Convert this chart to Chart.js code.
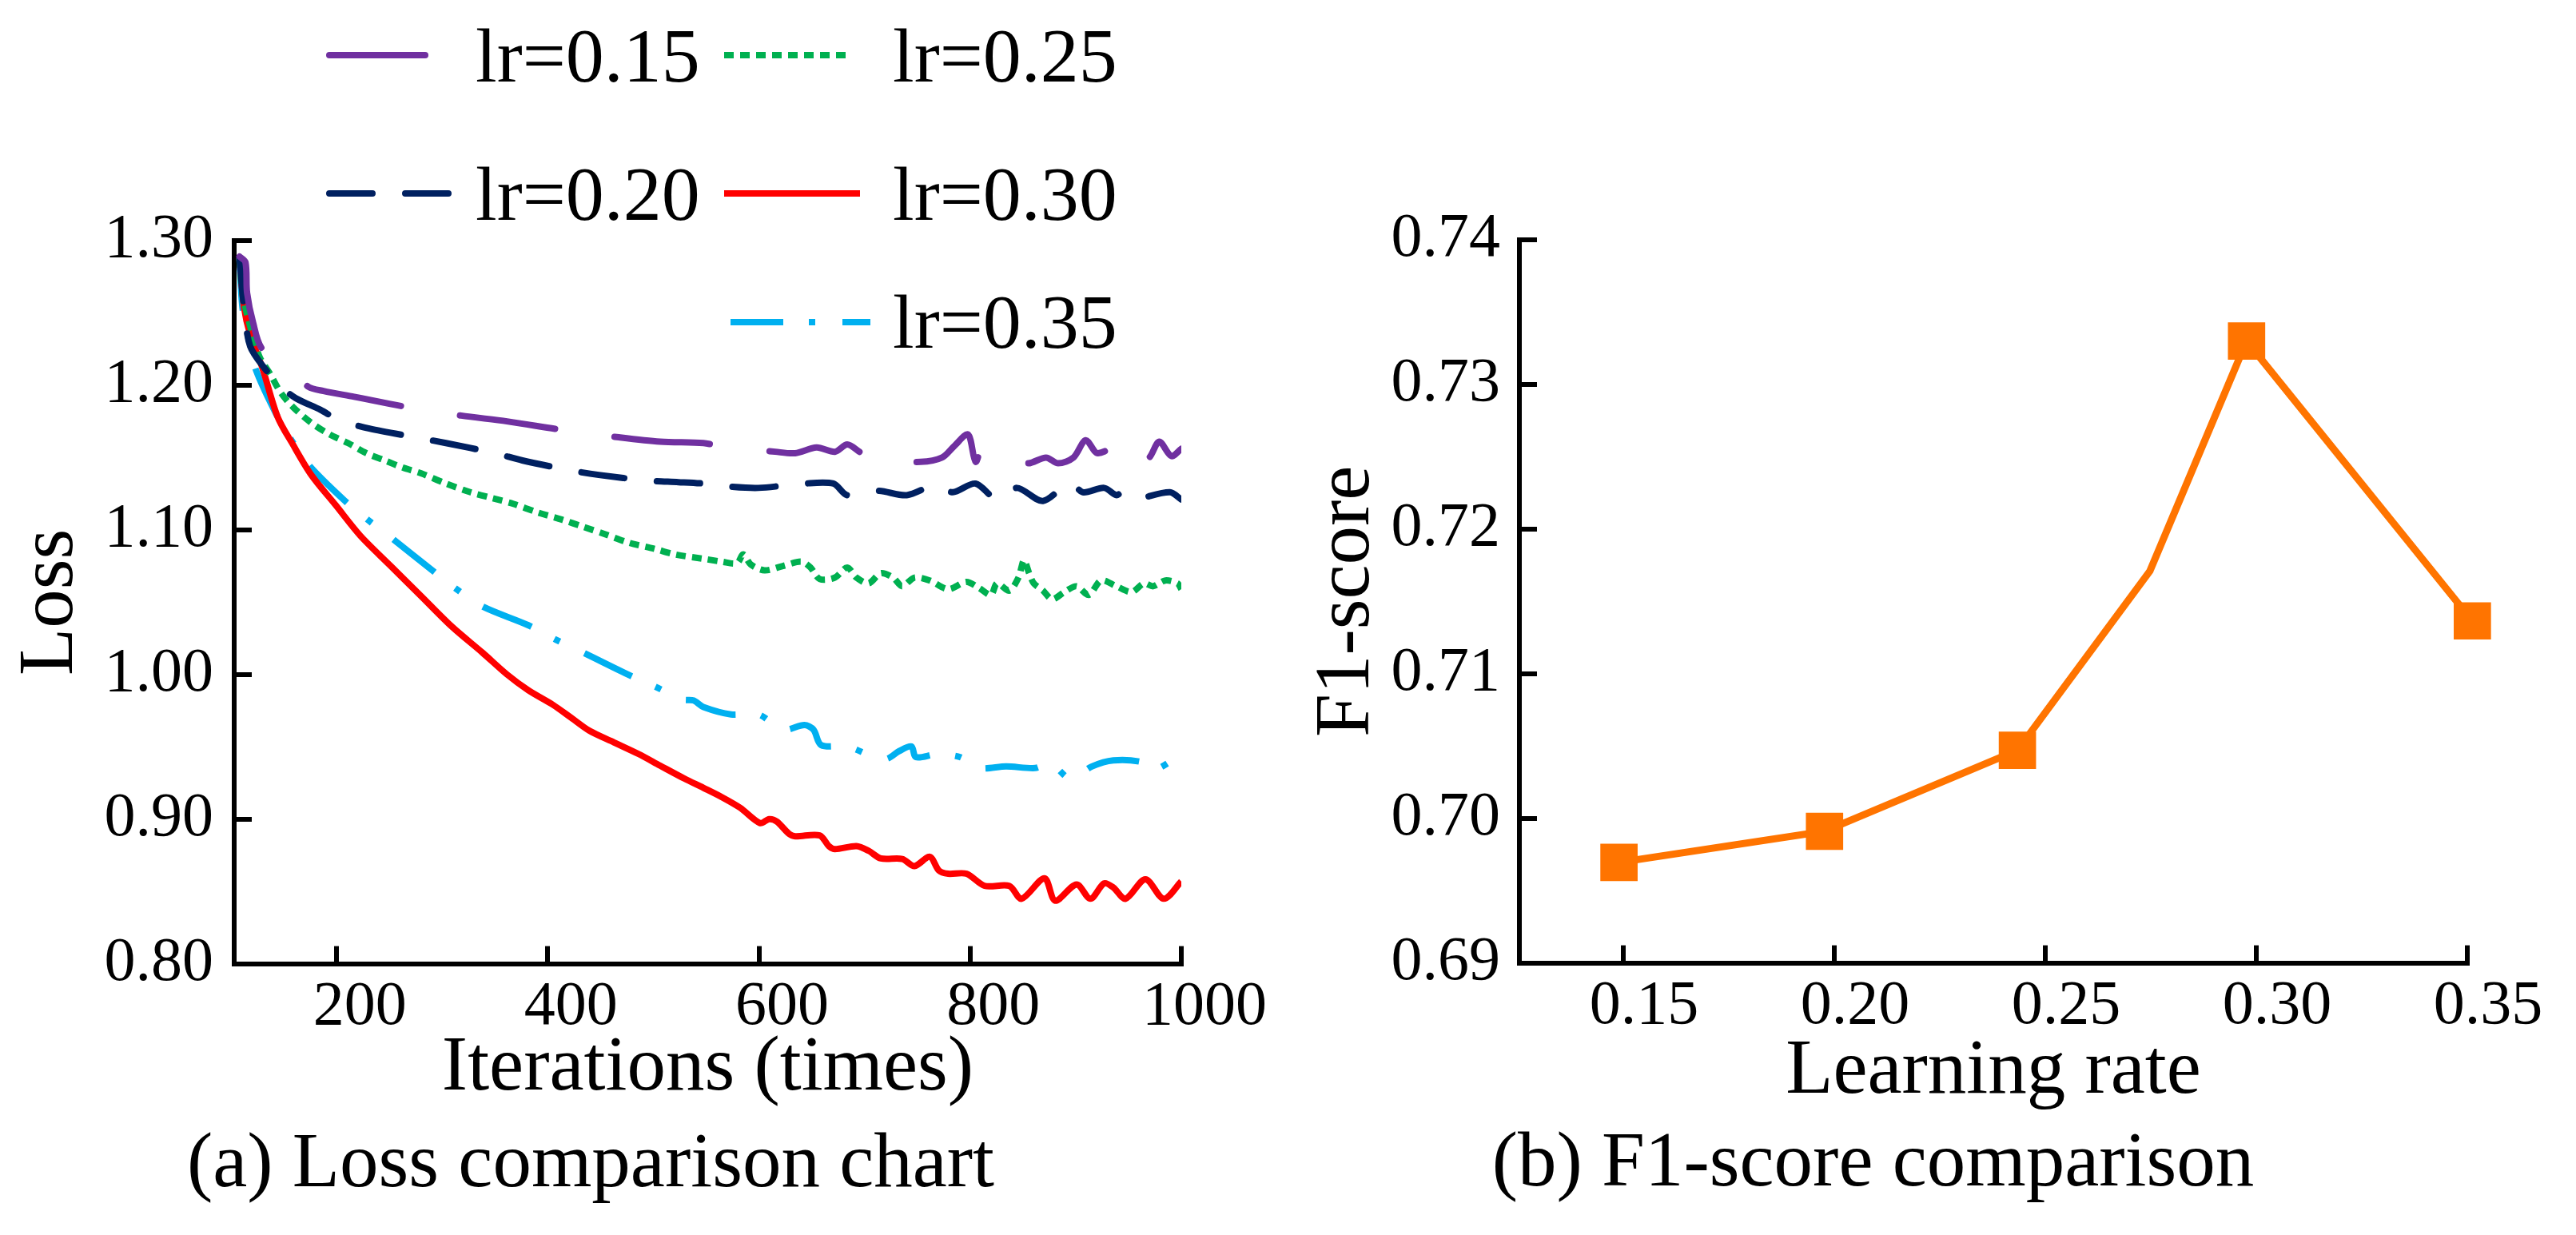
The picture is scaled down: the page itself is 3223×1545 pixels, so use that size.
<!DOCTYPE html>
<html><head><meta charset="utf-8">
<script src="https://cdn.jsdelivr.net/npm/chart.js@4.4.1/dist/chart.umd.min.js"></script>
<style>
html,body{margin:0;padding:0;background:#fff;width:3223px;height:1545px;overflow:hidden}
#c1{position:absolute;left:0;top:0}
#c2{position:absolute;left:1600px;top:0}
</style></head><body>
<canvas id="c1" width="1600" height="1545"></canvas>
<canvas id="c2" width="1623" height="1545"></canvas>
<script>
// ---------- data ----------
const seriesLabels = ['lr=0.15', 'lr=0.20', 'lr=0.25', 'lr=0.30', 'lr=0.35'];

const lr015X = [108, 113.7, 115.2, 121.0, 129.7, 173.1, 187.6, 216.6, 265.8, 318.0, 361.4, 415.0, 467.2, 506.3, 547.4, 563.3, 615.5, 634.3, 654.6, 672.0, 683.6, 695.1, 706.7, 753.1, 773.4, 785.0, 798.0, 805.2, 812.5, 842.9, 854.5, 871.9, 883.4, 897.9, 909.5, 921.1, 955.9, 968.9, 979.0, 990.6, 1000];
const lr015Y = [1.289, 1.285, 1.264, 1.243, 1.225, 1.199, 1.196, 1.192, 1.185, 1.179, 1.175, 1.169, 1.164, 1.161, 1.160, 1.158, 1.154, 1.153, 1.157, 1.154, 1.159, 1.154, 1.148, 1.147, 1.150, 1.158, 1.166, 1.147, 1.157, 1.151, 1.146, 1.150, 1.146, 1.150, 1.162, 1.153, 1.164, 1.150, 1.161, 1.151, 1.156];

const lr020X = [108, 112.3, 118.1, 132.6, 147.1, 161.5, 184.7, 202.1, 231.1, 274.5, 303.5, 349.8, 375.9, 422.3, 448.3, 494.7, 523.7, 547.4, 570.6, 599.5, 643.0, 670.5, 683.6, 712.5, 740.0, 767.6, 783.5, 805.2, 825.5, 844.3, 869.0, 895.0, 906.6, 926.9, 938.5, 944.3, 958.8, 963.1, 989.2, 1000];
const lr020Y = [1.288, 1.254, 1.227, 1.211, 1.199, 1.191, 1.183, 1.176, 1.170, 1.164, 1.160, 1.153, 1.148, 1.141, 1.138, 1.134, 1.133, 1.132, 1.130, 1.129, 1.132, 1.132, 1.124, 1.127, 1.124, 1.131, 1.126, 1.132, 1.121, 1.129, 1.120, 1.133, 1.126, 1.129, 1.124, 1.126, 1.121, 1.122, 1.126, 1.121];

const lr025X = [108, 110.8, 116.6, 126.8, 136.9, 147.0, 158.6, 176.0, 193.4, 210.8, 228.2, 245.6, 262.9, 280.3, 303.5, 326.7, 346.9, 367.2, 390.4, 413.6, 433.9, 454.1, 477.3, 500.5, 520.7, 547.4, 564.8, 579.3, 585.1, 592.3, 605.3, 622.7, 640.1, 648.8, 657.5, 672.0, 683.6, 692.3, 703.8, 715.4, 727.0, 735.7, 747.3, 761.8, 779.2, 796.5, 808.1, 819.7, 825.5, 837.1, 845.8, 851.0, 855.9, 860.3, 869.0, 877.7, 889.2, 900.8, 912.4, 924.0, 938.5, 953.0, 964.6, 973.3, 984.9, 996.4, 1000];
const lr025Y = [1.288, 1.264, 1.245, 1.220, 1.208, 1.195, 1.185, 1.174, 1.166, 1.160, 1.153, 1.148, 1.143, 1.139, 1.132, 1.126, 1.122, 1.118, 1.112, 1.107, 1.102, 1.097, 1.091, 1.087, 1.083, 1.080, 1.078, 1.077, 1.083, 1.076, 1.072, 1.075, 1.078, 1.074, 1.066, 1.067, 1.074, 1.067, 1.063, 1.070, 1.067, 1.061, 1.067, 1.065, 1.059, 1.064, 1.060, 1.055, 1.063, 1.058, 1.067, 1.079, 1.070, 1.063, 1.058, 1.052, 1.057, 1.061, 1.055, 1.065, 1.061, 1.057, 1.063, 1.061, 1.065, 1.063, 1.059];

const lr030X = [108, 112.3, 118.1, 129.7, 144.2, 158.6, 176.0, 199.2, 222.4, 251.3, 280.3, 309.3, 338.3, 361.4, 381.7, 404.9, 422.3, 439.6, 462.8, 486.0, 506.3, 529.4, 547.4, 564.8, 582.2, 601.0, 609.7, 616.9, 628.5, 634.3, 657.5, 666.2, 672.0, 692.3, 703.8, 715.4, 735.7, 747.3, 761.8, 770.5, 779.2, 796.5, 813.9, 837.1, 848.7, 870.4, 880.6, 900.8, 913.9, 926.9, 935.6, 947.2, 966.0, 983.4, 1000];
const lr030Y = [1.288, 1.254, 1.235, 1.212, 1.178, 1.159, 1.138, 1.117, 1.096, 1.075, 1.054, 1.033, 1.015, 1.000, 0.989, 0.979, 0.970, 0.961, 0.953, 0.945, 0.937, 0.928, 0.9216, 0.9152, 0.9078, 0.8972, 0.9000, 0.8983, 0.8898, 0.8881, 0.8887, 0.8813, 0.8792, 0.8813, 0.8781, 0.8728, 0.8724, 0.8675, 0.8739, 0.8644, 0.8622, 0.8622, 0.8538, 0.8538, 0.8449, 0.8591, 0.8436, 0.8548, 0.8449, 0.8555, 0.8527, 0.8449, 0.8584, 0.8449, 0.8569];

const lr035X = [108, 110.8, 116.6, 123.9, 144.2, 157.2, 174.6, 207.9, 231.1, 252.8, 290.5, 313.6, 338.3, 381.7, 407.8, 433.9, 477.3, 502.0, 528.0, 538.1, 547.4, 573.5, 599.5, 622.7, 643.0, 651.7, 658.9, 683.6, 709.6, 721.2, 732.8, 744.4, 748.7, 769.0, 790.7, 808.1, 834.2, 861.7, 876.2, 895.0, 915.3, 935.6, 961.7, 974.7, 1000];
const lr035Y = [1.288, 1.254, 1.232, 1.210, 1.178, 1.162, 1.144, 1.120, 1.106, 1.094, 1.072, 1.059, 1.047, 1.034, 1.024, 1.015, 0.9995, 0.9915, 0.9826, 0.9820, 0.9775, 0.9724, 0.9724, 0.9618, 0.9650, 0.9618, 0.9512, 0.9502, 0.9428, 0.9417, 0.9470, 0.9502, 0.9428, 0.9449, 0.9428, 0.9353, 0.9364, 0.9353, 0.9385, 0.9279, 0.9364, 0.9406, 0.9396, 0.9343, 0.9449];

const lossXTicks = [200, 400, 600, 800, 1000];
const lossYTicks = [0.8, 0.9, 1.0, 1.1, 1.2, 1.3];

const f1LearningRates = [0.1490, 0.1977, 0.2434, 0.2748, 0.2977, 0.3512];
const f1Scores        = [0.69695, 0.6991, 0.7047, 0.7171, 0.7330, 0.71365];
const f1HasMarker     = [true, true, true, false, true, true];
const f1XTicks = [0.15, 0.20, 0.25, 0.30, 0.35];
const f1YTicks = [0.69, 0.70, 0.71, 0.72, 0.73, 0.74];

// ---------- helpers ----------
const FONT = "'Liberation Serif','Times New Roman',serif";
Chart.defaults.font.family = FONT;
Chart.defaults.color = '#000';
function pts(xs, ys) { return xs.map((x, i) => ({x: x, y: ys[i]})); }
function axisStyle(tickFontSize, pad, labelOffset) {
  return {
    border: {display: true, color: '#000', width: 6},
    grid: {display: true, drawOnChartArea: false, drawTicks: true, tickLength: -22, color: '#000', lineWidth: 6},
    ticks: {font: {family: FONT, size: tickFontSize}, color: '#000', padding: pad, labelOffset: labelOffset || 0,
            maxRotation: 0, autoSkip: false}
  };
}

// legend drawn inside the loss chart (two-column layout of the reference)
const legendLayout = [
  {ds: 0, x1: 412, x2: 582, y: 69,  tx: 595,  ty: 102},
  {ds: 2, x1: 906, x2: 1066, y: 69, tx: 1117, ty: 102},
  {ds: 1, x1: 412, x2: 582, y: 242, tx: 595,  ty: 275},
  {ds: 3, x1: 906, x2: 1076, y: 242, tx: 1117, ty: 275},
  {ds: 4, x1: 914, x2: 1089, y: 403, tx: 1117, ty: 435}
];
const lossLegend = {
  id: 'lossLegend',
  afterDraw(chart) {
    const ctx = chart.ctx;
    legendLayout.forEach(item => {
      const ds = chart.data.datasets[item.ds];
      ctx.save();
      ctx.strokeStyle = ds.borderColor;
      ctx.lineWidth = ds.borderWidth;
      ctx.lineCap = ds.borderCapStyle || 'butt';
      ctx.setLineDash(ds.borderDash || []);
      ctx.beginPath(); ctx.moveTo(item.x1, item.y); ctx.lineTo(item.x2, item.y); ctx.stroke();
      ctx.setLineDash([]);
      ctx.fillStyle = '#000';
      ctx.font = '96px ' + FONT;
      ctx.textAlign = 'left'; ctx.textBaseline = 'alphabetic';
      ctx.fillText(ds.label, item.tx, item.ty);
      ctx.restore();
    });
  }
};

// ---------- (a) loss chart ----------
const lossX = Object.assign(axisStyle(78, 30, 29), {
  type: 'linear', min: 103, max: 1000,
  afterBuildTicks: s => { s.ticks = lossXTicks.map(v => ({value: v})); },
  afterFit: s => { s.height = 190; },
  title: {display: true, text: 'Iterations (times)', font: {family: FONT, size: 97}, color: '#000', padding: {top: 0, bottom: 0}}
});
lossX.ticks.callback = v => String(v);
const lossY = Object.assign(axisStyle(78, 48, 0), {
  type: 'linear', min: 0.8, max: 1.3,
  afterBuildTicks: s => { s.ticks = lossYTicks.map(v => ({value: v})); },
  afterFit: s => { s.width = 293; },
  title: {display: true, text: 'Loss', font: {family: FONT, size: 97}, color: '#000', padding: {top: 6, bottom: 0}}
});
lossY.ticks.callback = v => Number(v).toFixed(2);

new Chart(document.getElementById('c1'), {
  type: 'line',
  data: {
    datasets: [
      {label: seriesLabels[0], data: pts(lr015X, lr015Y), borderColor: '#7030A0', borderWidth: 8, borderDash: [120, 75], borderCapStyle: 'round', pointRadius: 0, tension: 0.3},
      {label: seriesLabels[1], data: pts(lr020X, lr020Y), borderColor: '#002060', borderWidth: 8, borderDash: [54, 41], borderCapStyle: 'round', pointRadius: 0, tension: 0.3},
      {label: seriesLabels[2], data: pts(lr025X, lr025Y), borderColor: '#00B050', borderWidth: 8, borderDash: [12, 8], borderCapStyle: 'butt', pointRadius: 0, tension: 0.3},
      {label: seriesLabels[3], data: pts(lr030X, lr030Y), borderColor: '#FF0000', borderWidth: 8, borderDash: [], borderCapStyle: 'butt', pointRadius: 0, tension: 0.3},
      {label: seriesLabels[4], data: pts(lr035X, lr035Y), borderColor: '#00B0F0', borderWidth: 8, borderDash: [66, 32, 8, 34], borderCapStyle: 'butt', pointRadius: 0, tension: 0.3}
    ]
  },
  options: {
    responsive: false, animation: false, devicePixelRatio: 1,
    layout: {padding: {left: 0, right: 122, top: 301, bottom: 0}},
    plugins: {
      legend: {display: false}, tooltip: {enabled: false},
      title: {display: true, position: 'bottom', text: '(a) Loss comparison chart', color: '#000',
              font: {family: FONT, size: 97, weight: 'normal'}, padding: {top: 5, bottom: 28}}
    },
    scales: {x: lossX, y: lossY}
  },
  plugins: [lossLegend]
});

// ---------- (b) F1 chart ----------
const f1X = Object.assign(axisStyle(78, 30, 26), {
  type: 'linear', min: 0.1254, max: 0.35,
  afterBuildTicks: s => { s.ticks = f1XTicks.map(v => ({value: v})); },
  afterFit: s => { s.height = 195; },
  title: {display: true, text: 'Learning rate', font: {family: FONT, size: 97}, color: '#000', padding: {top: 0, bottom: 0}}
});
f1X.ticks.callback = v => Number(v).toFixed(2);
const f1Y = Object.assign(axisStyle(78, 46, 0), {
  type: 'linear', min: 0.69, max: 0.74,
  afterBuildTicks: s => { s.ticks = f1YTicks.map(v => ({value: v})); },
  afterFit: s => { s.width = 301; },
  title: {display: true, text: 'F1-score', font: {family: FONT, size: 97}, color: '#000', padding: {top: 28, bottom: 0}}
});
f1Y.ticks.callback = v => Number(v).toFixed(2);

new Chart(document.getElementById('c2'), {
  type: 'line',
  data: {
    datasets: [{
      label: 'F1-score', data: pts(f1LearningRates, f1Scores),
      borderColor: '#FF7400', borderWidth: 9, tension: 0,
      pointStyle: 'rect', pointRadius: f1HasMarker.map(m => m ? 33 : 0),
      pointBackgroundColor: '#FF7400', pointBorderColor: '#FF7400', pointBorderWidth: 0,
      clip: false
    }]
  },
  options: {
    responsive: false, animation: false, devicePixelRatio: 1,
    layout: {padding: {left: 0, right: 136, top: 300, bottom: 0}},
    plugins: {
      legend: {display: false}, tooltip: {enabled: false},
      title: {display: true, position: 'bottom', text: '(b) F1-score comparison', color: '#000',
              font: {family: FONT, size: 97, weight: 'normal'}, padding: {top: 0, bottom: 29}}
    },
    scales: {x: f1X, y: f1Y}
  }
});
</script>
</body></html>
